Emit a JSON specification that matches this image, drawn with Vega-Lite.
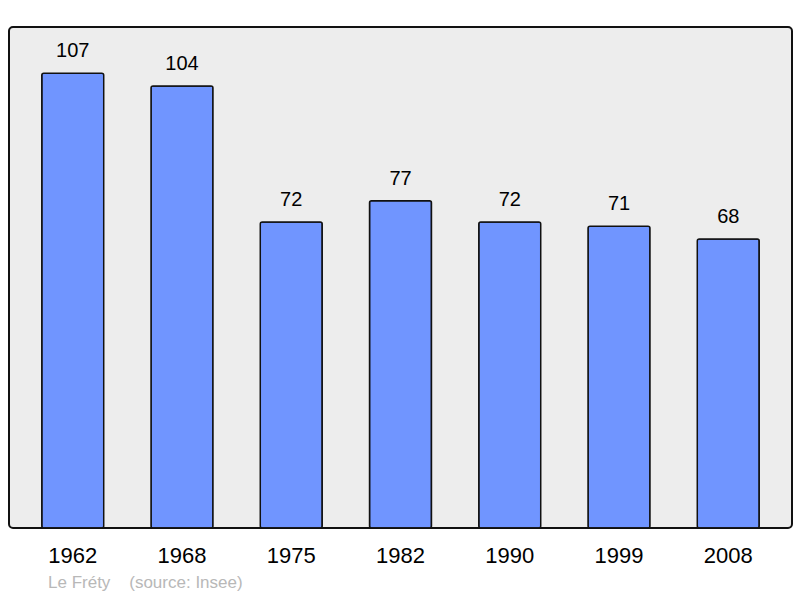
{
  "$schema": "https://vega.github.io/schema/vega-lite/v6.json",
  "autosize": "none",
  "width": 783,
  "height": 501,
  "padding": {"left": 9, "top": 27, "right": 8, "bottom": 70},
  "background": "white",
  "config": {
    "view": {"fill": "#ededed", "stroke": "#111111", "strokeWidth": 2, "cornerRadius": 4},
    "font": "Liberation Sans"
  },
  "title": {
    "text": "Le Fréty\u00a0\u00a0\u00a0\u00a0(source: Insee)",
    "orient": "bottom",
    "anchor": "start",
    "frame": "group",
    "dx": 39,
    "offset": 9,
    "fontSize": 17,
    "fontWeight": "normal",
    "color": "#b8b8b8",
    "font": "Liberation Sans"
  },
  "data": {
    "values": [
      {"year": "1962", "pop": 107},
      {"year": "1968", "pop": 104},
      {"year": "1975", "pop": 72},
      {"year": "1982", "pop": 77},
      {"year": "1990", "pop": 72},
      {"year": "1999", "pop": 71},
      {"year": "2008", "pop": 68}
    ]
  },
  "encoding": {
    "x": {
      "field": "year",
      "type": "nominal",
      "sort": null,
      "scale": {"paddingInner": 0.433, "paddingOuter": 0.3},
      "axis": {
        "title": null,
        "labelAngle": 0,
        "labelFontSize": 22,
        "labelColor": "#000000",
        "labelPadding": 17,
        "ticks": false,
        "domain": false,
        "grid": false
      }
    },
    "y": {
      "field": "pop",
      "type": "quantitative",
      "scale": {"domain": [0, 117.9], "nice": false, "zero": true},
      "axis": null
    }
  },
  "layer": [
    {
      "mark": {"type": "bar", "fill": "#7095ff", "stroke": "#111111", "strokeWidth": 1.5, "cornerRadius": 2}
    },
    {
      "mark": {"type": "text", "baseline": "bottom", "dy": -12, "fontSize": 20, "color": "#000000"},
      "encoding": {"text": {"field": "pop", "type": "quantitative"}}
    }
  ]
}
